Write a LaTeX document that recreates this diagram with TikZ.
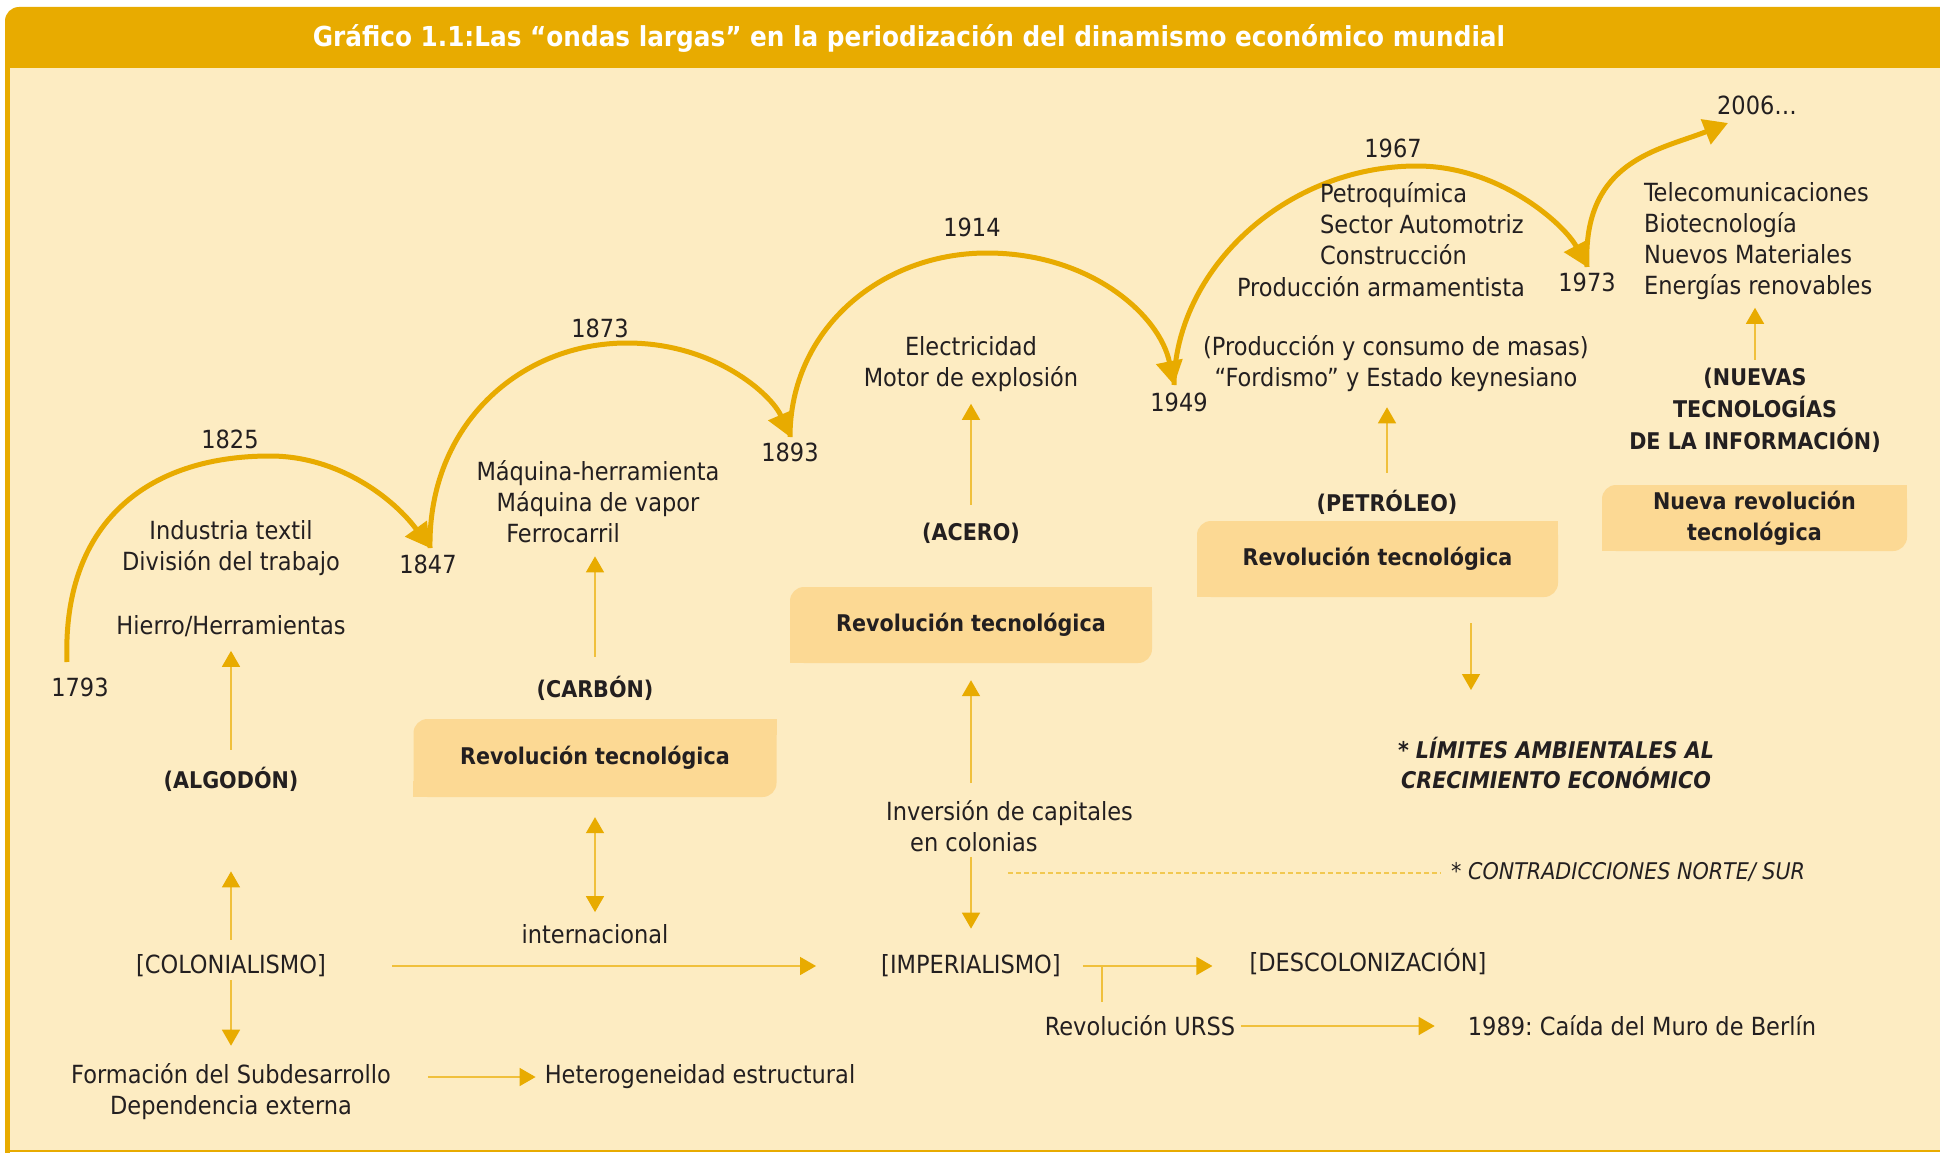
\documentclass[tikz,border=0pt]{standalone}
\usepackage{fontspec}
\setmainfont{DejaVu Sans Condensed}
\usepackage{tikz}
\usetikzlibrary{arrows.meta}
\frenchspacing
\definecolor{headgold}{RGB}{232,171,0}
\definecolor{cream}{RGB}{253,236,194}
\definecolor{boxfill}{RGB}{252,217,148}
\definecolor{thinline}{RGB}{240,192,60}
\definecolor{dashline}{RGB}{242,200,80}
\definecolor{inkgray}{RGB}{35,31,32}
\tikzstyle{txt} = [text=inkgray, font=\fontsize{25}{31}\selectfont, align=center, inner sep=0pt]
\tikzstyle{keyword} = [txt, font=\fontsize{23}{32}\selectfont\bfseries]
\tikzstyle{revbox} = [rectangle, rounded corners=14pt, fill=boxfill, text=inkgray, font=\fontsize{23}{31}\selectfont\bfseries, align=center, inner sep=0pt]
\tikzstyle{wave} = [line width=5pt, draw=headgold, -{Triangle[length=24pt,width=26pt]}]
\tikzstyle{link} = [line width=1.5pt, draw=thinline, -{Triangle[length=16pt,width=18pt,color=headgold]}]
\tikzstyle{link2} = [link, {Triangle[length=16pt,width=18pt,color=headgold]}-{Triangle[length=16pt,width=18pt,color=headgold]}]
\tikzstyle{plain} = [line width=1.5pt, draw=thinline]
\tikzstyle{note} = [line width=1.5pt, draw=dashline, dash pattern=on 5pt off 3pt]
\newcommand{\leafcorners}[1]{\fill[boxfill] (#1.north east) rectangle +(-16,16); \fill[boxfill] (#1.south west) rectangle +(16,-16);}

\begin{document}
\begin{tikzpicture}[x=1pt,y=-1pt]
\useasboundingbox (0,0) rectangle (1940,1153);
\fill[headgold, rounded corners=14pt] (5,7) rectangle (1970,90);
\fill[cream] (10,68) rectangle (1940,1150);
\fill[headgold] (5,40) rectangle (10,1153);
\draw[headgold, line width=2pt] (10,1151) -- (1940,1151);

\node (title) [font=\fontsize{27.5}{30}\selectfont\bfseries, text=white, inner sep=0pt] at (909,38) {Gráfico 1.1:Las “ondas largas” en la periodización del dinamismo económico mundial};

\node (y1793) [txt] at (80,687) {1793};
\node (y1825) [txt] at (230,439) {1825};
\node (y1847) [txt] at (428,564) {1847};
\node (y1873) [txt] at (600,328) {1873};
\node (y1893) [txt] at (790,452) {1893};
\node (y1914) [txt] at (972,227) {1914};
\node (y1949) [txt] at (1179,402) {1949};
\node (y1967) [txt] at (1393,148) {1967};
\node (y1973) [txt] at (1587,282) {1973};
\node (y2006) [txt] at (1757,105) {2006…};

\coordinate (w0) at (67,662);
\coordinate (w1) at (430,548);
\coordinate (w2) at (790,437);
\coordinate (w3) at (1174,385);
\coordinate (w4) at (1587,267);
\coordinate (w5) at (1728,123);
\draw[wave] (w0) .. controls (62,525) and (145,456) .. (270,456) .. controls (340,456) and (395,500) .. (w1);
\draw[wave] (w1) .. controls (428,425) and (520,343) .. (627,343) .. controls (715,343) and (772,395) .. (w2);
\draw[wave] (w2) .. controls (790,330) and (880,253) .. (987,253) .. controls (1090,253) and (1160,315) .. (w3);
\draw[wave] (w3) .. controls (1175,270) and (1285,166) .. (1417,166) .. controls (1500,166) and (1565,225) .. (w4);
\draw[wave] (w4) .. controls (1582,160) and (1660,150) .. (w5);

\node (ind) [txt] at (231,548) {Industria textil\\División del trabajo};
\node (hierro) [txt] at (231,626) {Hierro/Herramientas};
\node (algodon) [keyword] at (231,779) {(ALGODÓN)};
\node (colon) [txt] at (231,966) {[COLONIALISMO]};
\node (form) [txt] at (231,1092) {Formación del Subdesarrollo\\Dependencia externa};
\node (hetero) [txt] at (700,1077) {Heterogeneidad estructural};

\node (maq) [txt] at (598,502) {Máquina-herramienta\\Máquina de vapor\\Ferrocarril\hspace*{70pt}};
\node (carbon) [keyword] at (595,688) {(CARBÓN)};
\node (cbox) [revbox, minimum width=363pt, minimum height=78pt] at (595,758) {Revolución tecnológica};
\leafcorners{cbox}
\node (inter) [txt] at (595,934) {internacional};

\node (elec) [txt] at (971,364) {Electricidad\\Motor de explosión};
\node (acero) [keyword] at (971,533) {(ACERO)};
\node (abox) [revbox, minimum width=362pt, minimum height=76pt] at (971,625) {Revolución tecnológica};
\leafcorners{abox}
\node (inv) [txt, align=left, anchor=west] at (886,826) {Inversión de capitales\\\hspace*{24pt}en colonias};
\node (imper) [txt] at (971,966) {[IMPERIALISMO]};
\node (desc) [txt] at (1368,962) {[DESCOLONIZACIÓN]};
\node (urss) [txt] at (1140,1026) {Revolución URSS};
\node (muro) [txt] at (1642,1026) {1989: Caída del Muro de Berlín};

\node (petro) [txt, align=left, anchor=west] at (1320,224) {Petroquímica\\Sector Automotriz\\Construcción};
\node (arma) [txt] at (1381,287) {Producción armamentista};
\node (fordismo) [txt] at (1396,364) {(Producción y consumo de masas)\\“Fordismo” y Estado keynesiano};
\node (petroleo) [keyword] at (1387,502) {(PETRÓLEO)};
\node (pbox) [revbox, minimum width=361pt, minimum height=76pt] at (1377.5,559) {Revolución tecnológica};
\leafcorners{pbox}
\node (limites) [keyword, font=\fontsize{23}{30}\selectfont\bfseries\itshape] at (1556,763) {* LÍMITES AMBIENTALES AL\\CRECIMIENTO ECONÓMICO};
\node (contra) [txt, anchor=west, font=\fontsize{23}{30}\selectfont\itshape] at (1451,872) {* CONTRADICCIONES NORTE/ SUR};

\node (telecom) [txt, align=left, anchor=west] at (1644,241) {Telecomunicaciones\\Biotecnología\\Nuevos Materiales\\Energías renovables};
\node (nuevas) [keyword] at (1755,410) {(NUEVAS\\TECNOLOGÍAS\\DE LA INFORMACIÓN)};
\node (nbox) [revbox, minimum width=305pt, minimum height=66pt] at (1754.5,518) {Nueva revolución\\tecnológica};
\leafcorners{nbox}

\coordinate (fork) at (1102,966);
\coordinate (limtip) at (1471,690);
\coordinate (dashstart) at (1008,873);

\draw[link, shorten <=17pt, shorten >=14pt] (algodon) -- (hierro);
\draw[link, shorten <=15pt, shorten >=80pt] (colon) -- (algodon);
\draw[link, shorten <=3pt, shorten >=18pt] (colon) -- (form);
\draw[link, shorten <=37pt, shorten >=9pt] (form.east |- hetero) -- (hetero);
\draw[link, shorten <=66pt, shorten >=65pt] (colon) -- (imper);
\draw[link, shorten <=19pt, shorten >=13pt] (carbon) -- (carbon |- maq.south);
\draw[link2, shorten <=20pt, shorten >=12pt] (cbox) -- (inter);
\draw[link, shorten <=18pt, shorten >=12pt] (acero) -- (elec);
\draw[link, shorten <=17pt, shorten >=17pt] (abox |- inv.north) -- (abox);
\draw[link, shorten <=5pt, shorten >=26pt] (abox |- inv.south) -- (imper);
\draw[link, shorten <=22pt, shorten >=37pt] (imper.east) -- (imper -| desc.west);
\draw[plain, shorten >=14pt] (fork) -- (fork |- urss.north);
\draw[link, shorten <=6pt, shorten >=33pt] (urss) -- (muro);
\draw[link, shorten <=17pt, shorten >=15pt] (petroleo) -- (petroleo |- fordismo.south);
\draw[link, shorten <=26pt] (pbox.south -| limtip) -- (limtip);
\draw[link, shorten <=8pt, shorten >=8pt] (nuevas) -- (nuevas |- telecom.south);
\draw[note, shorten >=10pt] (dashstart) -- (dashstart -| contra.west);
\end{tikzpicture}
\end{document}
